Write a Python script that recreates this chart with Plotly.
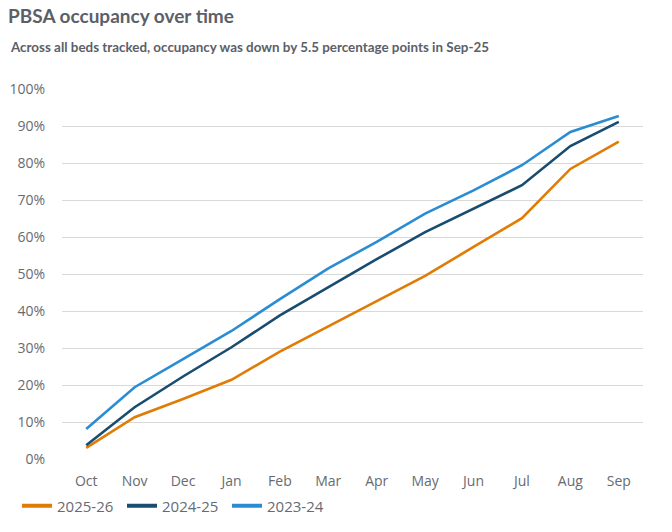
import plotly.graph_objects as go

months = ["Oct", "Nov", "Dec", "Jan", "Feb", "Mar", "Apr", "May", "Jun", "Jul", "Aug", "Sep"]
occ_2025_26 = [3.0, 11.3, 16.2, 21.4, 29.0, 35.8, 42.5, 49.5, 57.3, 65.1, 78.4, 85.8]
occ_2024_25 = [3.7, 14.0, 22.3, 30.2, 38.8, 46.5, 54.0, 61.3, 67.6, 74.0, 84.6, 91.1]
occ_2023_24 = [8.1, 19.4, 27.0, 34.6, 43.2, 51.5, 58.7, 66.3, 72.6, 79.4, 88.4, 92.7]

series = [
    ("2025-26", occ_2025_26, "#E07C05"),
    ("2024-25", occ_2024_25, "#184C70"),
    ("2023-24", occ_2023_24, "#2A8DD3"),
]

W, H = 672, 532

fig = go.Figure()
for name, vals, color in series:
    fig.add_trace(go.Scatter(
        x=months, y=[v / 100 for v in vals], name=name, mode="lines",
        line=dict(color=color, width=2.6), legendgroup=name, showlegend=False,
    ))
# legend entries (thicker key lines, as in the reference)
for name, vals, color in series:
    fig.add_trace(go.Scatter(
        x=[None], y=[None], name=name, mode="lines",
        line=dict(color=color, width=4), legendgroup=name, showlegend=True,
        hoverinfo="skip",
    ))

fig.update_layout(
    width=W, height=H,
    margin=dict(l=62, r=29, t=89, b=73, autoexpand=False),
    paper_bgcolor="white", plot_bgcolor="white",
    font=dict(family="Open Sans", color="#666B73", size=13),
    title=dict(
        text="<b>PBSA occupancy over time</b>",
        xref="container", yref="container",
        x=8 / W, xanchor="left", y=1 - 16 / H, yanchor="middle",
        font=dict(family="Lato", size=19, color="#5B6068"),
    ),
    annotations=[dict(
        text="<b>Across all beds tracked, occupancy was down by 5.5 percentage points in Sep-25</b>",
        xref="paper", yref="paper", x=(8 - 62) / 581, y=1.0, yshift=89 - 47,
        xanchor="left", yanchor="middle", showarrow=False,
        font=dict(family="Lato", size=13.4, color="#5B6068"),
    )],
    xaxis=dict(
        type="category", range=[-0.5, 11.5], showgrid=False, showline=False,
        ticks="", tickfont=dict(size=14, color="#666B73"), ticklabelstandoff=12,
        automargin=False,
    ),
    yaxis=dict(
        range=[0, 1.0], dtick=0.1, tickformat=".0%", showgrid=True,
        gridcolor="#D9D9D9", gridwidth=1, zeroline=False, showline=False,
        ticks="", tickfont=dict(size=14, color="#666B73"), ticklabelstandoff=16,
        automargin=False,
    ),
    legend=dict(
        orientation="h", xref="container", yref="container",
        x=17 / W, xanchor="left", y=1 - 506 / H, yanchor="middle",
        font=dict(size=15, color="#666B73"), itemwidth=30,
        entrywidth=60, entrywidthmode="pixels",
    ),
    showlegend=True,
)

fig.write_html("out.html", config={"displayModeBar": False},
               post_script="document.body.style.margin='0';")
